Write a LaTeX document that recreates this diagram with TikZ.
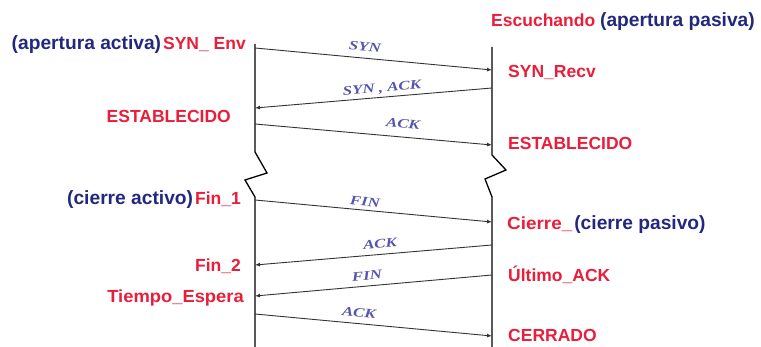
\documentclass[tikz,border=0pt]{standalone}
\usepackage{fontspec}
\setmainfont{Liberation Sans}
\newfontfamily\lblserif{Liberation Serif}
\usetikzlibrary{arrows.meta}
\definecolor{stred}{RGB}{232,30,58}
\definecolor{stnavy}{RGB}{35,40,125}
\definecolor{msgblue}{RGB}{85,85,175}
\newcommand\stretchlbl[1]{\scalebox{1.3}[1]{#1}}
\newcommand\navytxt[1]{{\color{stnavy}\fontsize{19.2}{22}\selectfont #1}}
\begin{document}
\begin{tikzpicture}[x=1pt,y=-1pt,
  state/.style={inner sep=0pt, font=\fontsize{17.5}{20}\selectfont\bfseries, text=stred},
  lbl/.style={inner sep=0pt, font=\fontsize{13}{15}\selectfont\lblserif\bfseries\itshape, text=msgblue},
  msg/.style={draw=black!80, line width=0.9pt, -{Latex[length=5pt,width=4pt]}},
  life/.style={draw=black, line width=1.3pt, line join=miter}]
\useasboundingbox (0,0) rectangle (761,347);

% lifelines with breaks
\coordinate (Ltop) at (255,44);
\coordinate (Lb1) at (255,152);
\coordinate (Lb2) at (267,173);
\coordinate (Lb3) at (245,180);
\coordinate (Lb4) at (255,197);
\coordinate (Lbot) at (255,347);
\coordinate (Rtop) at (492,47);
\coordinate (Rb1) at (492,155);
\coordinate (Rb2) at (506,170);
\coordinate (Rb3) at (485,179);
\coordinate (Rb4) at (492,197);
\coordinate (Rbot) at (492,347);
\draw[life] (Ltop) -- (Lb1) -- (Lb2) -- (Lb3) -- (Lb4) -- (Lbot);
\draw[life] (Rtop) -- (Rb1) -- (Rb2) -- (Rb3) -- (Rb4) -- (Rbot);

% message end points
\coordinate (L1) at (255,48);  \coordinate (R1) at (492,70);
\coordinate (R2) at (492,88);  \coordinate (L2) at (255,108);
\coordinate (L3) at (255,124); \coordinate (R3) at (492,145);
\coordinate (L4) at (255,200); \coordinate (R4) at (492,222);
\coordinate (R5) at (492,245); \coordinate (L5) at (255,265);
\coordinate (R6) at (492,275); \coordinate (L6) at (255,296);
\coordinate (L7) at (255,314); \coordinate (R7) at (492,336);

\draw[msg] (L1) -- (R1);
\draw[msg] (R2) -- (L2);
\draw[msg] (L3) -- (R3);
\draw[msg] (L4) -- (R4);
\draw[msg] (R5) -- (L5);
\draw[msg] (R6) -- (L6);
\draw[msg] (L7) -- (R7);

% message labels
\node[lbl, rotate=-5.3] (m1) at (365,47) {\stretchlbl{SYN}};
\node[lbl, rotate=4.8]  (m2) at (382,88.5) {\stretchlbl{SYN , ACK}};
\node[lbl, rotate=-5.0] (m3) at (403,124) {\stretchlbl{ACK}};
\node[lbl, rotate=-5.3] (m4) at (365,202) {\stretchlbl{FIN}};
\node[lbl, rotate=4.8]  (m5) at (380,244) {\stretchlbl{ACK}};
\node[lbl, rotate=5.0]  (m6) at (367,275.5) {\stretchlbl{FIN}};
\node[lbl, rotate=-5.3] (m7) at (359,312.5) {\stretchlbl{ACK}};

% state labels
\node[state, anchor=base east] (s1) at (246,50) {\navytxt{(apertura activa)}\hspace{2pt}SYN\_ Env};
\node[state, anchor=base west] (s2) at (491,27) {Escuchando \navytxt{(apertura pasiva)}};
\node[state, anchor=base west] (s3) at (508,78) {SYN\_Recv};
\node[state, anchor=base east] (s4) at (231,123) {ESTABLECIDO};
\node[state, anchor=base west] (s5) at (508,150) {ESTABLECIDO};
\node[state, anchor=base east] (s6) at (241,205) {\navytxt{(cierre activo)}\hspace{2pt}Fin\_1};
\node[state, anchor=base west] (s7) at (507,230) {\scalebox{1.08}[1]{Cierre\_}\hspace{2pt}\navytxt{(cierre pasivo)}};
\node[state, anchor=base east] (s8) at (241,272) {Fin\_2};
\node[state, anchor=base west] (s9) at (508,282) {Último\_ACK};
\node[state, anchor=base east] (s10) at (244,303) {\scalebox{1.05}[1]{Tiempo\_Espera}};
\node[state, anchor=base west] (s11) at (508,342) {CERRADO};
\end{tikzpicture}
\end{document}
